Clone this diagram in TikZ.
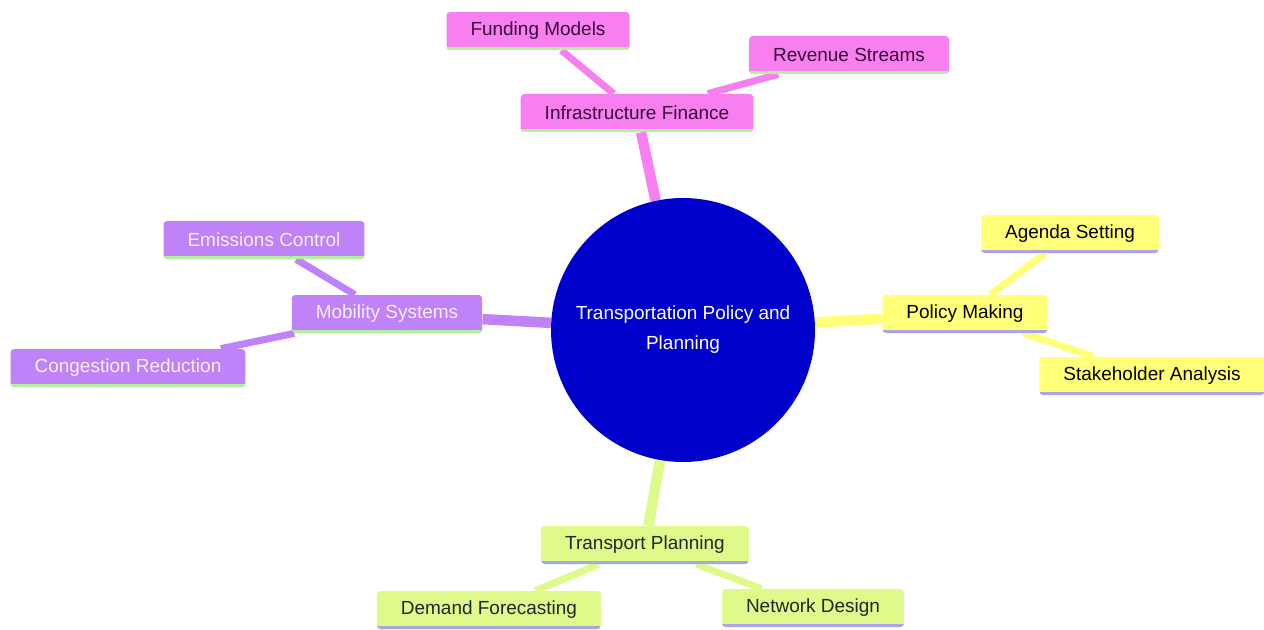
\documentclass[tikz,border=0pt]{standalone}
\usepackage{fontspec}
\setmainfont{Liberation Sans}
\usetikzlibrary{backgrounds}

\definecolor{finfill}{HTML}{F77FF0}
\definecolor{fintext}{HTML}{3A0A3A}
\definecolor{mobfill}{HTML}{BF82F8}
\definecolor{mobtext}{HTML}{F4EEFF}
\definecolor{polfill}{HTML}{FFFF78}
\definecolor{planfill}{HTML}{DDFA8A}
\definecolor{greenline}{HTML}{B6EFA2}
\definecolor{lilacline}{HTML}{A9A6E8}
\definecolor{rootfill}{HTML}{0000CC}

\begin{document}
\begin{tikzpicture}
[x=0.02cm,y=-0.02cm,
every node/.style={font=\fontsize{10.8}{13}\selectfont},
topic/.style={rectangle,rounded corners=2pt,minimum height=0.76cm,inner xsep=0.48cm},
uline/.style={path picture={\draw[#1,line width=3pt]
  (path picture bounding box.south west) -- (path picture bounding box.south east);}},
fin/.style={topic,fill=finfill,text=fintext,uline=greenline},
mob/.style={topic,fill=mobfill,text=mobtext,uline=greenline},
pol/.style={topic,fill=polfill,text=black,uline=lilacline},
plan/.style={topic,fill=planfill,text=black!85,uline=lilacline},
trunk/.style={line width=6pt},
twig/.style={line width=4pt}]
\useasboundingbox (0,0) rectangle (1264,629);

% centre
\node[circle,fill=rootfill,text=white,minimum size=5.28cm,align=center]
  (root) at (683,330) {Transportation Policy and\\[4pt]Planning};

% finance branch
\node at (637,113) [fin] (infra) {Infrastructure Finance};
\node at (538,31) [fin] (fund) {Funding Models};
\node at (849,55) [fin] (rev) {Revenue Streams};

% mobility branch
\node at (387,314) [mob] (mobsys) {Mobility Systems};
\node at (264,240) [mob] (emis) {Emissions Control};
\node at (128,368) [mob] (cong) {Congestion Reduction};

% policy branch
\node at (965,314) [pol] (polmak) {Policy Making};
\node at (1070,234) [pol] (agenda) {Agenda Setting};
\node at (1152,376) [pol] (stake) {Stakeholder Analysis};

% planning branch
\node at (645,545) [plan] (tplan) {Transport Planning};
\node at (489,610) [plan] (demand) {Demand Forecasting};
\node at (813,608) [plan] (netdes) {Network Design};

\begin{scope}[on background layer]
\draw[trunk,finfill] (root) -- (infra);
\draw[twig,finfill] (infra) -- (fund);
\draw[twig,finfill] (infra) -- (rev);
\draw[trunk,mobfill] (root) -- (mobsys);
\draw[twig,mobfill] (mobsys) -- (emis);
\draw[twig,mobfill] (mobsys) -- (cong);
\draw[trunk,polfill] (root) -- (polmak);
\draw[twig,polfill] (polmak) -- (agenda);
\draw[twig,polfill] (polmak) -- (stake);
\draw[trunk,planfill] (root) -- (tplan);
\draw[twig,planfill] (tplan) -- (demand);
\draw[twig,planfill] (tplan) -- (netdes);
\end{scope}
\end{tikzpicture}
\end{document}
